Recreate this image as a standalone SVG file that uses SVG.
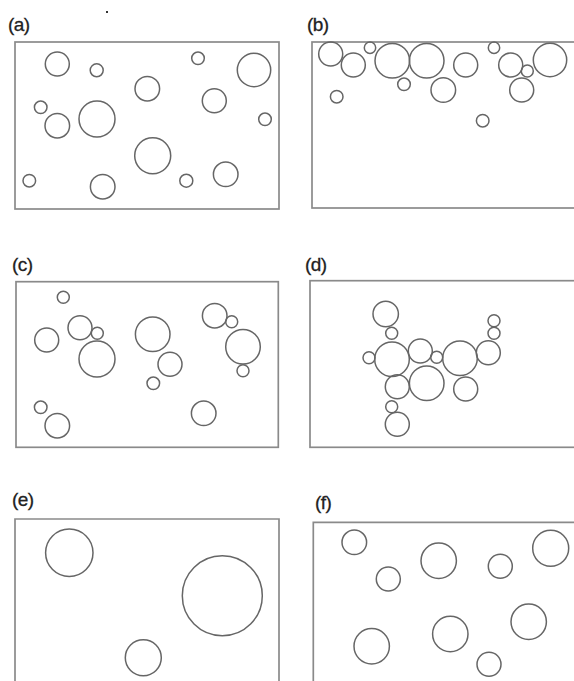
<svg xmlns="http://www.w3.org/2000/svg" width="574" height="681" viewBox="0 0 574 681">
<style>
.frame{fill:none;stroke:#8a8a8a;stroke-width:1.7}
.c{fill:none;stroke:#666;stroke-width:1.5}
.lbl{font-family:"Liberation Sans",Arial,sans-serif;font-size:19px;fill:#222;stroke:#222;stroke-width:0.3;letter-spacing:-0.6px}
</style>
<rect width="574" height="681" fill="#fff"/>
<rect x="106" y="11" width="2" height="2" fill="#333"/>
<g id="panel-a">
<text class="lbl" x="8" y="31">(a)</text>
<rect class="frame" x="15" y="42" width="264" height="167"/>
<circle class="c" cx="57.3" cy="64" r="12"/>
<circle class="c" cx="96.7" cy="70.3" r="6.5"/>
<circle class="c" cx="147.3" cy="88.7" r="12.3"/>
<circle class="c" cx="198" cy="58.3" r="6.3"/>
<circle class="c" cx="254" cy="70" r="16.7"/>
<circle class="c" cx="40.7" cy="107.3" r="6.3"/>
<circle class="c" cx="57.3" cy="125.7" r="12.3"/>
<circle class="c" cx="97" cy="119" r="18"/>
<circle class="c" cx="214.3" cy="100.7" r="12"/>
<circle class="c" cx="265" cy="119.3" r="6.3"/>
<circle class="c" cx="152.7" cy="155.7" r="18"/>
<circle class="c" cx="29.3" cy="180.7" r="6.3"/>
<circle class="c" cx="102.7" cy="186.7" r="12.3"/>
<circle class="c" cx="186.3" cy="180.7" r="6.5"/>
<circle class="c" cx="225.7" cy="174.3" r="12.3"/>
</g>
<g id="panel-b">
<text class="lbl" x="307" y="31">(b)</text>
<rect class="frame" x="312" y="42" width="264" height="166"/>
<circle class="c" cx="330.7" cy="54" r="12"/>
<circle class="c" cx="353.3" cy="65" r="12"/>
<circle class="c" cx="370" cy="47.7" r="5.7"/>
<circle class="c" cx="392.3" cy="60.7" r="17.3"/>
<circle class="c" cx="426.7" cy="60.7" r="17.3"/>
<circle class="c" cx="404" cy="84.3" r="6.3"/>
<circle class="c" cx="465.7" cy="65" r="12"/>
<circle class="c" cx="443.3" cy="90" r="12.3"/>
<circle class="c" cx="494" cy="47.7" r="5.7"/>
<circle class="c" cx="510.7" cy="65" r="12"/>
<circle class="c" cx="527.3" cy="71" r="6"/>
<circle class="c" cx="521.7" cy="90" r="12"/>
<circle class="c" cx="550" cy="60" r="16.7"/>
<circle class="c" cx="336.7" cy="96.7" r="6.3"/>
<circle class="c" cx="482.7" cy="120.7" r="6.3"/>
</g>
<g id="panel-c">
<text class="lbl" x="12" y="271">(c)</text>
<rect class="frame" x="16" y="281.7" width="262.3" height="165.6"/>
<circle class="c" cx="63.3" cy="297.3" r="6"/>
<circle class="c" cx="80" cy="327.7" r="12"/>
<circle class="c" cx="97.3" cy="333.3" r="6"/>
<circle class="c" cx="46.7" cy="340" r="12"/>
<circle class="c" cx="97" cy="359" r="18"/>
<circle class="c" cx="152.7" cy="334.3" r="17.3"/>
<circle class="c" cx="170" cy="364.3" r="12"/>
<circle class="c" cx="153.3" cy="383.3" r="6.3"/>
<circle class="c" cx="214.7" cy="315.7" r="12.3"/>
<circle class="c" cx="231.7" cy="321.7" r="6"/>
<circle class="c" cx="243" cy="346.7" r="17.3"/>
<circle class="c" cx="243" cy="370.7" r="6"/>
<circle class="c" cx="40.7" cy="407.3" r="6.3"/>
<circle class="c" cx="57.3" cy="425.7" r="12.3"/>
<circle class="c" cx="203.7" cy="413.3" r="12.3"/>
</g>
<g id="panel-d">
<text class="lbl" x="305" y="271">(d)</text>
<rect class="frame" x="310" y="280.7" width="266" height="166.6"/>
<circle class="c" cx="385.7" cy="314" r="12.7"/>
<circle class="c" cx="391.7" cy="333.3" r="6"/>
<circle class="c" cx="392" cy="359.3" r="17.3"/>
<circle class="c" cx="369" cy="357.7" r="6"/>
<circle class="c" cx="420.3" cy="351" r="12"/>
<circle class="c" cx="436.7" cy="357.3" r="6"/>
<circle class="c" cx="426.7" cy="383.3" r="17.3"/>
<circle class="c" cx="460" cy="358.3" r="17.3"/>
<circle class="c" cx="488.3" cy="352.7" r="12"/>
<circle class="c" cx="494" cy="320.7" r="6"/>
<circle class="c" cx="494" cy="333.3" r="6"/>
<circle class="c" cx="397.3" cy="386.7" r="12"/>
<circle class="c" cx="465.7" cy="389" r="12"/>
<circle class="c" cx="391.7" cy="406.7" r="6"/>
<circle class="c" cx="397.3" cy="424.3" r="12"/>
</g>
<g id="panel-e">
<text class="lbl" x="12" y="506">(e)</text>
<path class="frame" d="M15,685 V519 H279 V685"/>
<circle class="c" cx="69.3" cy="552.7" r="23.7"/>
<circle class="c" cx="222.3" cy="595.7" r="40"/>
<circle class="c" cx="143.3" cy="657.7" r="18"/>
</g>
<g id="panel-f">
<text class="lbl" x="315" y="509">(f)</text>
<path class="frame" d="M313.3,685 V522.3 H576"/>
<circle class="c" cx="354.3" cy="542.3" r="12.3"/>
<circle class="c" cx="388.3" cy="579" r="12"/>
<circle class="c" cx="438.7" cy="560.7" r="17.7"/>
<circle class="c" cx="500.3" cy="566.3" r="12"/>
<circle class="c" cx="550.7" cy="548.3" r="18"/>
<circle class="c" cx="371.7" cy="646.3" r="17.7"/>
<circle class="c" cx="450.3" cy="634" r="17.7"/>
<circle class="c" cx="528.7" cy="621.7" r="17.7"/>
<circle class="c" cx="489" cy="664.3" r="12"/>
</g>
</svg>
